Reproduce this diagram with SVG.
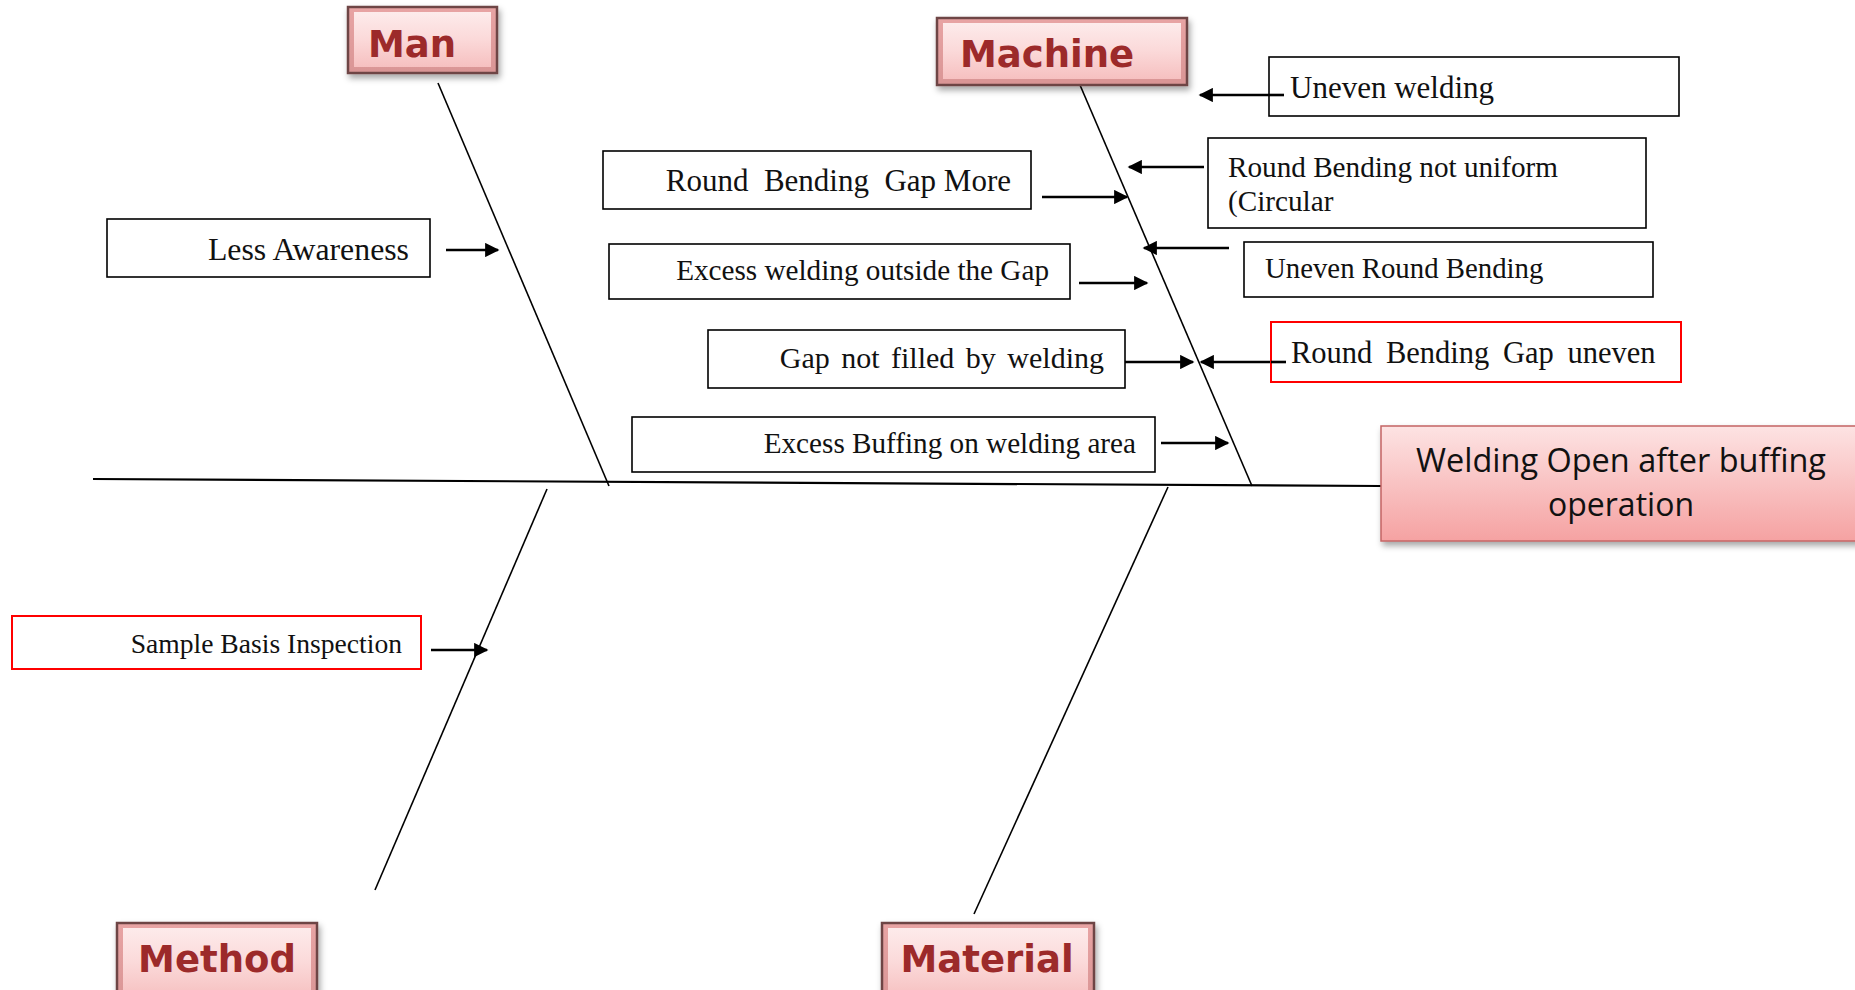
<svg xmlns="http://www.w3.org/2000/svg" width="1855" height="990" viewBox="0 0 1855 990">
<style>
.bone{stroke:#000;stroke-width:1.6;fill:none}
.spine{stroke:#000;stroke-width:2.2;fill:none}
.arr{stroke:#000;stroke-width:2.6;fill:none;marker-end:url(#ah)}
.box{fill:#fff;stroke:#000;stroke-width:1.6}
.rbox{fill:#fff;stroke:#ff0000;stroke-width:2}
.t{font-family:"Liberation Serif","Times New Roman",serif;font-size:29px;fill:#111}
.lbl{font-family:"DejaVu Sans",Verdana,sans-serif;font-weight:bold;font-size:37px;fill:#9c2a2a;text-anchor:middle}
.lo{fill:url(#lgOut);stroke:#6e4545;stroke-width:2.5}
.li{fill:url(#lgIn)}
.ct{font-family:"Open Sans","Noto Sans",sans-serif;font-size:32px;fill:#111;text-anchor:middle}
</style>
<defs>
<marker id="ah" viewBox="0 0 10 10" refX="9" refY="5" markerWidth="6" markerHeight="5.5" markerUnits="strokeWidth" orient="auto">
<path d="M0,0 L10,5 L0,10 z" fill="#000"/>
</marker>
<linearGradient id="lgOut" x1="0" y1="0" x2="0" y2="1">
<stop offset="0" stop-color="#e8a4a4"/>
<stop offset="1" stop-color="#d99595"/>
</linearGradient>
<linearGradient id="lgIn" x1="0" y1="0" x2="0" y2="1">
<stop offset="0" stop-color="#fdebeb"/>
<stop offset="0.5" stop-color="#fbd9d9"/>
<stop offset="1" stop-color="#f6c0c0"/>
</linearGradient>
<linearGradient id="cg" x1="0" y1="0" x2="0" y2="1">
<stop offset="0" stop-color="#fde3e3"/>
<stop offset="1" stop-color="#f5a2a2"/>
</linearGradient>
<filter id="sh" x="-10%" y="-10%" width="125%" height="135%">
<feDropShadow dx="2" dy="4" stdDeviation="3" flood-color="#000" flood-opacity="0.35"/>
</filter>
</defs>

<g id="connectors">
<line class="spine" x1="93" y1="479" x2="1381" y2="486"/>
<line class="bone" x1="438" y1="83" x2="609" y2="486"/>
<line class="bone" x1="1080" y1="85" x2="1252" y2="486"/>
<line class="bone" x1="547" y1="489" x2="375" y2="890"/>
<line class="bone" x1="1168" y1="487" x2="974" y2="914"/>
<line class="arr" x1="446" y1="250" x2="498" y2="250"/>
<line class="arr" x1="431" y1="650" x2="487" y2="650"/>
<line class="arr" x1="1042" y1="197" x2="1127" y2="197"/>
<line class="arr" x1="1079" y1="283" x2="1147" y2="283"/>
<line class="arr" x1="1125" y1="362" x2="1193" y2="362"/>
<line class="arr" x1="1161" y1="443" x2="1228" y2="443"/>
<line class="arr" x1="1269" y1="95" x2="1200" y2="95"/>
<line class="arr" x1="1204" y1="167" x2="1129" y2="167"/>
<line class="arr" x1="1229" y1="248" x2="1144" y2="248"/>
<line class="arr" x1="1271" y1="362" x2="1201" y2="362"/>
</g>

<g id="man">
<rect class="lo" x="348" y="7" width="149" height="66" filter="url(#sh)"/>
<rect class="li" x="354" y="12" width="137" height="55"/>
<text class="lbl" x="412" y="57">Man</text>
</g>
<g id="machine">
<rect class="lo" x="937" y="18" width="250" height="67" filter="url(#sh)"/>
<rect class="li" x="943" y="23" width="238" height="56"/>
<text class="lbl" x="1047" y="67">Machine</text>
</g>
<g id="method">
<rect class="lo" x="117" y="923" width="200" height="80" filter="url(#sh)"/>
<rect class="li" x="123" y="928" width="188" height="70"/>
<text class="lbl" x="217" y="972">Method</text>
</g>
<g id="material">
<rect class="lo" x="882" y="923" width="212" height="80" filter="url(#sh)"/>
<rect class="li" x="888" y="928" width="200" height="70"/>
<text class="lbl" x="987" y="972">Material</text>
</g>

<g id="effect">
<rect x="1381" y="426" width="480" height="115" fill="url(#cg)" stroke="#c46464" stroke-width="1.5" filter="url(#sh)"/>
<text class="ct" x="1621" y="472" textLength="410" lengthAdjust="spacingAndGlyphs">Welding Open after buffing</text>
<text class="ct" x="1621" y="516">operation</text>
</g>

<g id="less-awareness">
<rect class="box" x="107" y="219" width="323" height="58"/>
<text class="t" x="409" y="260" style="font-size:31.8px;text-anchor:end">Less Awareness</text>
</g>
<g id="sample-basis-inspection">
<rect class="rbox" x="12" y="616" width="409" height="53"/>
<text class="t" x="402" y="653" style="font-size:27.6px;text-anchor:end">Sample Basis Inspection</text>
</g>
<g id="round-bending-gap-more">
<rect class="box" x="603" y="151" width="428" height="58"/>
<text class="t" x="1011" y="191" style="font-size:31px;text-anchor:end" xml:space="preserve">Round  Bending  Gap More</text>
</g>
<g id="excess-welding-outside">
<rect class="box" x="609" y="244" width="461" height="55"/>
<text class="t" x="1049" y="280" style="font-size:29.2px;text-anchor:end">Excess welding outside the Gap</text>
</g>
<g id="gap-not-filled">
<rect class="box" x="708" y="330" width="417" height="58"/>
<text class="t" x="1104" y="368" style="font-size:30px;word-spacing:4px;text-anchor:end">Gap not filled by welding</text>
</g>
<g id="excess-buffing">
<rect class="box" x="632" y="417" width="523" height="55"/>
<text class="t" x="1136" y="453" style="font-size:29.2px;text-anchor:end">Excess Buffing on welding area</text>
</g>
<g id="uneven-welding">
<rect class="box" x="1269" y="57" width="410" height="59"/>
<line x1="1269" y1="95" x2="1284" y2="95" stroke="#000" stroke-width="2.6"/>
<text class="t" x="1290" y="98" style="font-size:31px">Uneven welding</text>
</g>
<g id="round-bending-not-uniform">
<rect class="box" x="1208" y="138" width="438" height="90"/>
<text class="t" x="1228" y="177" style="font-size:29.2px">Round Bending not uniform</text>
<text class="t" x="1228" y="211" style="font-size:29.2px">(Circular</text>
</g>
<g id="uneven-round-bending">
<rect class="box" x="1244" y="242" width="409" height="55"/>
<text class="t" x="1265" y="278" style="font-size:28.8px">Uneven Round Bending</text>
</g>
<g id="round-bending-gap-uneven">
<rect class="rbox" x="1271" y="322" width="410" height="60"/>
<line x1="1271" y1="362" x2="1286" y2="362" stroke="#000" stroke-width="2.6"/>
<text class="t" x="1291" y="363" style="font-size:30.5px;word-spacing:6px">Round Bending Gap uneven</text>
</g>
</svg>
